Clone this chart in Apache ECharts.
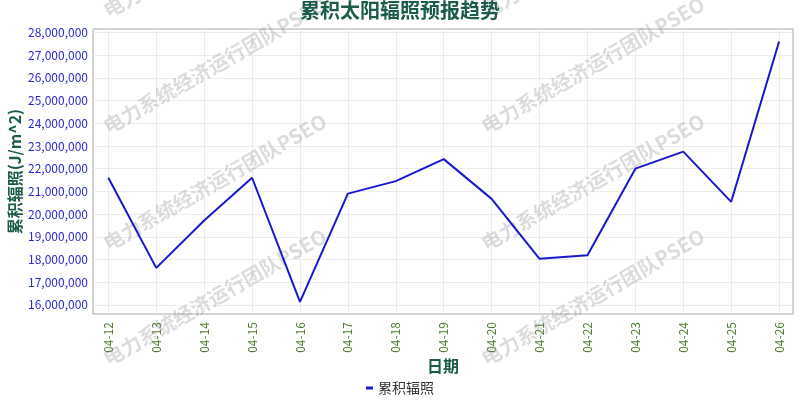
<!DOCTYPE html>
<html>
<head>
<meta charset="utf-8">
<script src="https://cdn.jsdelivr.net/npm/echarts@6/dist/echarts.min.js"></script>
<style>html,body{margin:0;padding:0;background:#fff}#c{width:800px;height:400px}</style>
</head>
<body>
<div id="c"></div>
<script>
const categories = ['04-12','04-13','04-14','04-15','04-16','04-17','04-18','04-19','04-20','04-21','04-22','04-23','04-24','04-25','04-26'];
const radiation = [21600000, 17630000, 19720000, 21600000, 16130000, 20900000, 21450000, 22420000, 20670000, 18030000, 18190000, 22000000, 22750000, 20540000, 27600000];
const yTicks = [16000000,17000000,18000000,19000000,20000000,21000000,22000000,23000000,24000000,25000000,26000000,27000000,28000000];
const xTicks = categories.map((c, i) => i);

const FONT = '"Noto Sans CJK SC", "Noto Sans", sans-serif';
const chart = echarts.init(document.getElementById('c'));

const wm = [];
[105, 483].forEach(x => {
  [12, 128, 245, 360].forEach(y => {
    wm.push({
      type: 'text', x: x, y: y, rotation: 0.52, z: 1, silent: true,
      style: { text: '电力系统经济运行团队PSEO', fill: 'rgba(150,150,150,0.33)',
        font: 'bold 20px ' + FONT, textAlign: 'left', textVerticalAlign: 'middle' }
    });
  });
});

chart.setOption({
  animation: false,
  backgroundColor: '#fff',
  textStyle: { fontFamily: FONT },
  title: {
    text: '累积太阳辐照预报趋势', left: 'center', top: 0, padding: 0,
    textStyle: { fontSize: 20, fontWeight: 'bold', color: '#1d5b4a', fontFamily: FONT }
  },
  legend: {
    data: ['累积辐照'], left: 'center', top: 381, padding: 0,
    icon: 'rect', itemWidth: 7, itemHeight: 3, itemGap: 4,
    textStyle: { fontSize: 14, color: '#333', fontFamily: FONT }
  },
  graphic: wm,
  grid: {
    left: 93, right: 7, top: 29, bottom: 86, show: true,
    containLabel: false, outerBoundsMode: 'none',
    borderColor: '#a8a8a8', borderWidth: 1, backgroundColor: 'transparent'
  },
  xAxis: {
    type: 'value', min: -0.32, max: 14.29,
    name: '日期', nameLocation: 'middle', nameGap: 44, nameMoveOverlap: false,
    nameTextStyle: { fontSize: 16, fontWeight: 'bold', color: '#1d5b4a', fontFamily: FONT },
    axisLine: { show: false },
    axisTick: { show: false, customValues: xTicks },
    axisLabel: {
      customValues: xTicks, rotate: 90, margin: 8, fontSize: 12, color: '#4d7a2e',
      formatter: v => categories[Math.round(v)] || ''
    },
    splitLine: { show: true, lineStyle: { color: '#ececec', width: 1 } }
  },
  yAxis: {
    type: 'value', min: 15600000, max: 28150000,
    name: '累积辐照(J/m^2)', nameLocation: 'middle', nameGap: 70, nameMoveOverlap: false,
    nameTextStyle: { fontSize: 16, fontWeight: 'bold', color: '#1d5b4a', fontFamily: FONT },
    axisLine: { show: false },
    axisTick: { show: false, customValues: yTicks },
    axisLabel: {
      customValues: yTicks, margin: 5, fontSize: 12, color: '#2a2ad0',
      formatter: v => v.toLocaleString('en-US')
    },
    splitLine: { show: true, lineStyle: { color: '#ececec', width: 1 } }
  },
  series: [{
    name: '累积辐照', type: 'line', showSymbol: false, symbol: 'none', z: 3,
    data: radiation.map((v, i) => [i, v]),
    lineStyle: { color: '#1818cc', width: 2 },
    itemStyle: { color: '#1818cc' }
  }]
});
</script>
</body>
</html>
